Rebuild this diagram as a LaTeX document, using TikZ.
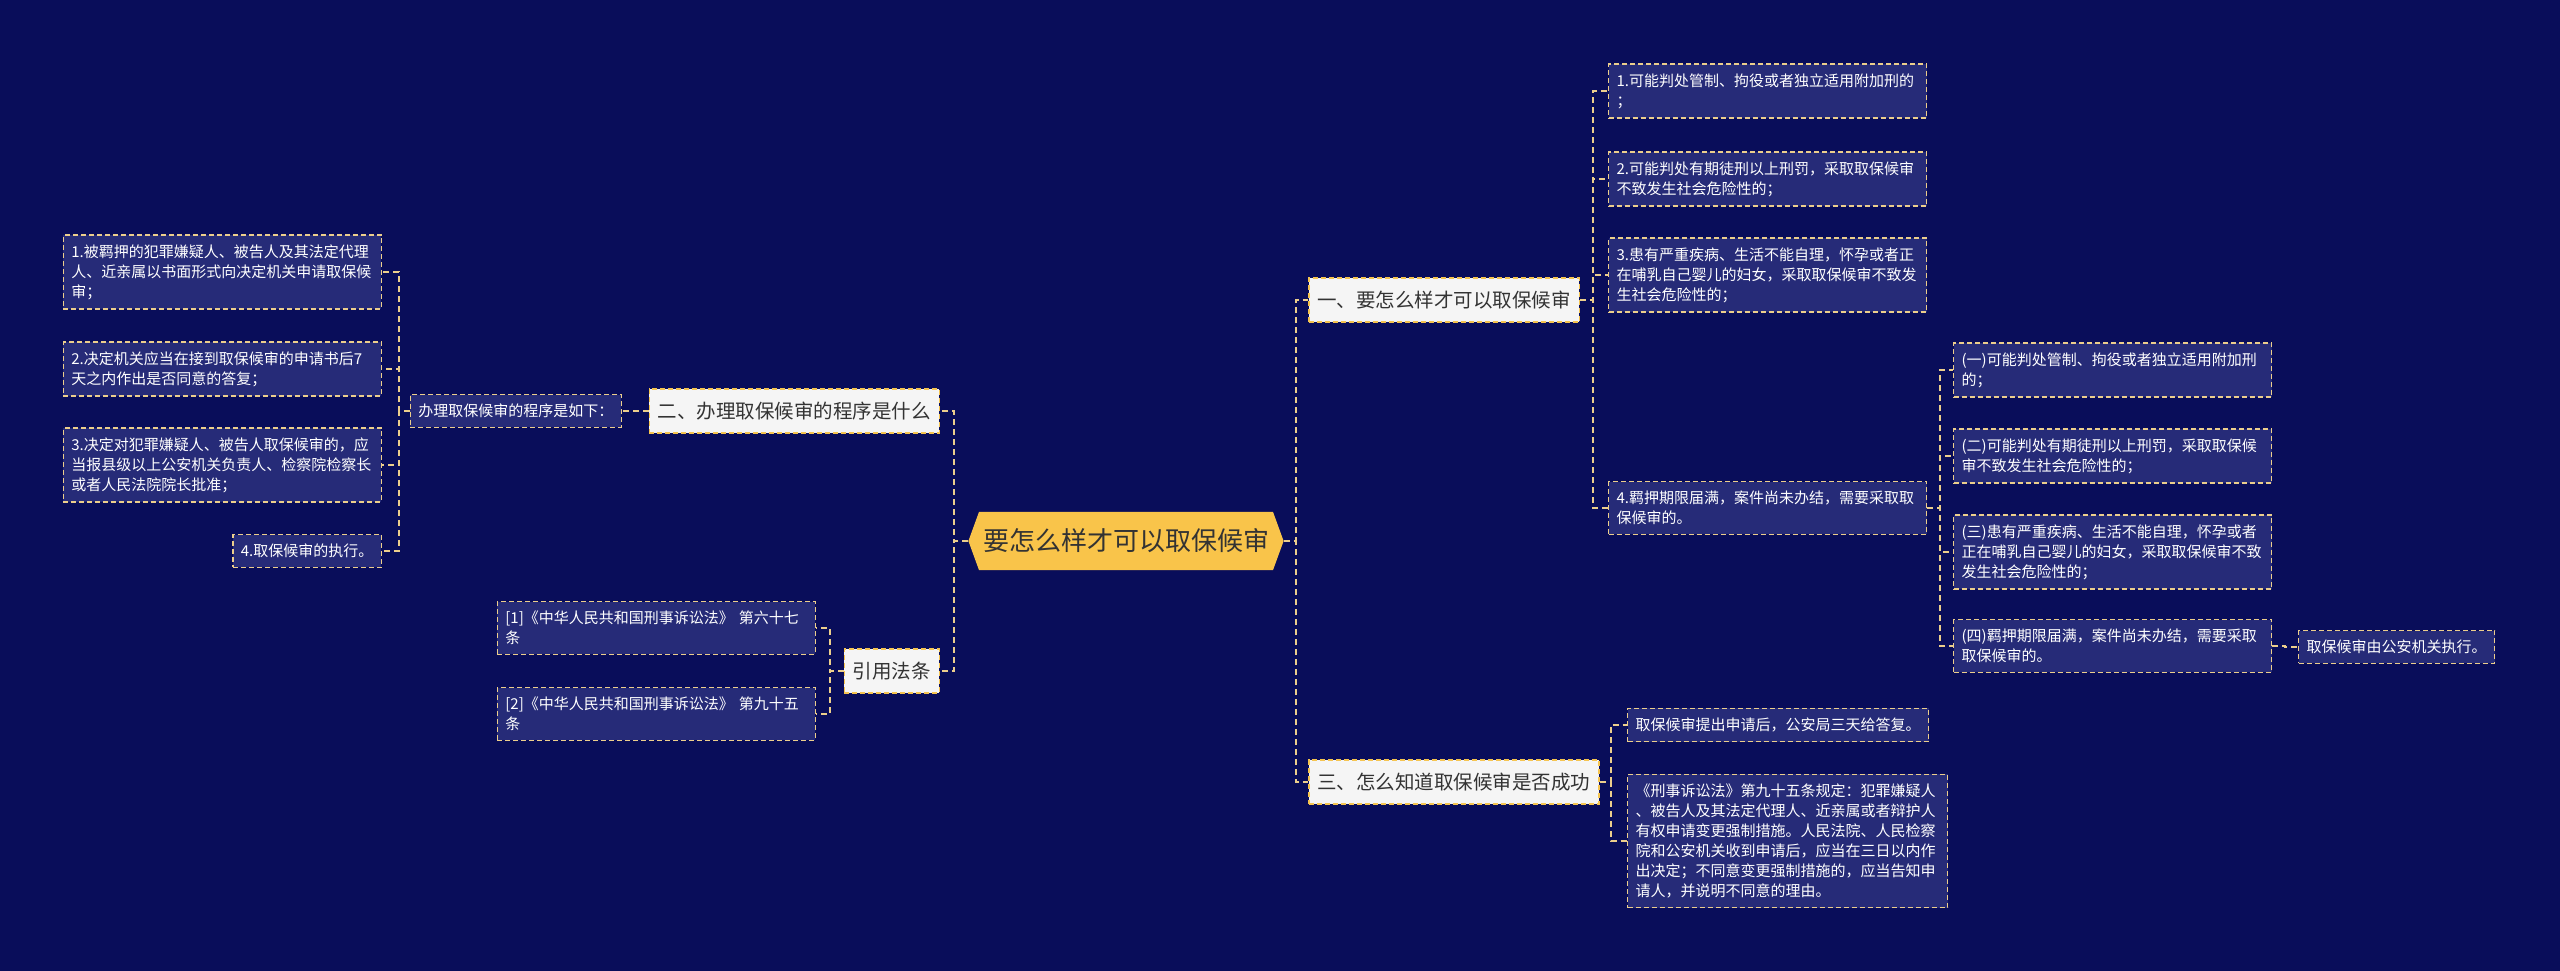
\documentclass[tikz,border=0pt]{standalone}
\usepackage{fontspec}
\newfontfamily\cjk{Noto Sans CJK SC}
\usetikzlibrary{shapes.symbols}
\definecolor{bgblue}{RGB}{9,13,90}
\definecolor{leafblue}{RGB}{38,43,120}
\definecolor{linkgold}{RGB}{236,206,140}
\definecolor{boxgold}{RGB}{245,196,80}
\definecolor{rootgold}{RGB}{249,196,74}
\definecolor{darktext}{RGB}{51,51,51}
\definecolor{topicgray}{RGB}{245,245,245}

\begin{document}
\begin{tikzpicture}[x=1pt, y=-1pt,
    root/.style={signal, signal to=west and east, signal pointer angle=140, fill=rootgold,
        text=darktext, font=\cjk\fontsize{26}{30}\selectfont, inner xsep=4pt, inner ysep=17pt},
    topic/.style={draw=boxgold, dash pattern=on 5pt off 3pt, line width=1.5pt, fill=topicgray,
        text=darktext, font=\cjk\fontsize{19.5}{24}\selectfont, inner xsep=8.5pt, inner ysep=13pt},
    leaf/.style={draw=linkgold, dash pattern=on 5pt off 3pt, line width=1.2pt, fill=leafblue,
        text=white, font=\cjk\fontsize{15}{20}\selectfont, align=left, inner xsep=8pt, inner ysep=9.5pt},
    wide/.style={leaf, text width=302pt},
    link/.style={draw=linkgold, dash pattern=on 6pt off 4pt, line width=2pt}]
    % 背景
    \fill[bgblue] (0,0) rectangle (2560,971);
    \useasboundingbox (0,0) rectangle (2560,971);

    % 中心
    \node[root] (root) at (1126,541) {要怎么样才可以取保候审};

    % 右侧分支
    \node[topic, anchor=west] (how) at (1308,300) {一、要怎么样才可以取保候审};
    \node[topic, anchor=west] (know) at (1308,782) {三、怎么知道取保候审是否成功};
    % 左侧分支
    \node[topic, anchor=east] (proc) at (940,411) {二、办理取保候审的程序是什么};
    \node[topic, anchor=east] (law) at (940,671) {引用法条};

    \foreach \b in {how,know} \draw[link] (root.east) -- ++(12,0) |- (\b.west);
    \foreach \b in {proc,law} \draw[link] (root.west) -- ++(-14,0) |- (\b.east);

    % 一、条件
    \node[wide, anchor=west] (how1) at (1608,91) {1.可能判处管制、拘役或者独立适用附加刑的\\；};
    \node[wide, anchor=west] (how2) at (1608,179) {2.可能判处有期徒刑以上刑罚，采取取保候审\\不致发生社会危险性的；};
    \node[wide, anchor=west] (how3) at (1608,275) {3.患有严重疾病、生活不能自理，怀孕或者正\\在哺乳自己婴儿的妇女，采取取保候审不致发\\生社会危险性的；};
    \node[wide, anchor=west] (how4) at (1608,508) {4.羁押期限届满，案件尚未办结，需要采取取\\保候审的。};
    \foreach \c in {how1,how2,how3,how4} \draw[link] (how.east) -- ++(13,0) |- (\c.west);

    % 4. 的细则
    \node[wide, anchor=west] (sub1) at (1953,370) {(一)可能判处管制、拘役或者独立适用附加刑\\的；};
    \node[wide, anchor=west] (sub2) at (1953,456) {(二)可能判处有期徒刑以上刑罚，采取取保候\\审不致发生社会危险性的；};
    \node[wide, anchor=west] (sub3) at (1953,552) {(三)患有严重疾病、生活不能自理，怀孕或者\\正在哺乳自己婴儿的妇女，采取取保候审不致\\发生社会危险性的；};
    \node[wide, anchor=west] (sub4) at (1953,646) {(四)羁押期限届满，案件尚未办结，需要采取\\取保候审的。};
    \foreach \c in {sub1,sub2,sub3,sub4} \draw[link] (how4.east) -- ++(13,0) |- (\c.west);

    \node[leaf, anchor=west] (exec) at (2298,647) {取保候审由公安机关执行。};
    \draw[link] (sub4.east) -- ++(13,0) |- (exec.west);

    % 三、是否成功
    \node[leaf, anchor=west] (know1) at (1627,725) {取保候审提出申请后，公安局三天给答复。};
    \node[wide, text width=304pt, anchor=west] (know2) at (1627,841) {《刑事诉讼法》第九十五条规定：犯罪嫌疑人\\、被告人及其法定代理人、近亲属或者辩护人\\有权申请变更强制措施。人民法院、人民检察\\院和公安机关收到申请后，应当在三日以内作\\出决定；不同意变更强制措施的，应当告知申\\请人，并说明不同意的理由。};
    \foreach \c in {know1,know2} \draw[link] (know.east) -- ++(11,0) |- (\c.west);

    % 二、程序
    \node[leaf, anchor=east] (steps) at (622,411) {办理取保候审的程序是如下：};
    \draw[link] (proc.west) -- (steps.east);

    \node[wide, anchor=east] (step1) at (382,272) {1.被羁押的犯罪嫌疑人、被告人及其法定代理\\人、近亲属以书面形式向决定机关申请取保候\\审；};
    \node[wide, anchor=east] (step2) at (382,369) {2.决定机关应当在接到取保候审的申请书后7\\天之内作出是否同意的答复；};
    \node[wide, anchor=east] (step3) at (382,465) {3.决定对犯罪嫌疑人、被告人取保候审的，应\\当报县级以上公安机关负责人、检察院检察长\\或者人民法院院长批准；};
    \node[leaf, anchor=east] (step4) at (382,551) {4.取保候审的执行。};
    \foreach \c in {step1,step2,step3,step4} \draw[link] (steps.west) -- ++(-11,0) |- (\c.east);

    % 引用法条
    \node[wide, anchor=east] (ref1) at (816,628) {[1]《中华人民共和国刑事诉讼法》 第六十七\\条};
    \node[wide, anchor=east] (ref2) at (816,714) {[2]《中华人民共和国刑事诉讼法》 第九十五\\条};
    \foreach \c in {ref1,ref2} \draw[link] (law.west) -- ++(-14,0) |- (\c.east);
\end{tikzpicture}
\end{document}
